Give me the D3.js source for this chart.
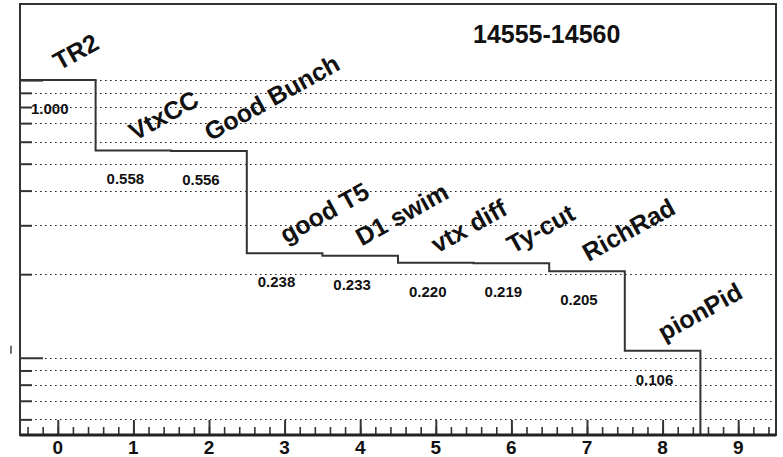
<!DOCTYPE html>
<html>
<head>
<meta charset="utf-8">
<script src="https://cdnjs.cloudflare.com/ajax/libs/d3/7.8.5/d3.min.js"></script>
<style>
body { margin: 0; background: #fff; }
text { font-family: "Liberation Sans", Arial, Helvetica, sans-serif; font-weight: bold; fill: #111; }
</style>
</head>
<body>
<div id="plot"></div>
<script>
// cut flow, fraction of events surviving each cut
var cuts = ["TR2", "VtxCC", "Good Bunch", "good T5", "D1 swim", "vtx diff", "Ty-cut", "RichRad", "pionPid"];
var fractions = [1.000, 0.558, 0.556, 0.238, 0.233, 0.220, 0.219, 0.205, 0.106, 0];
var valueLabels = ["1.000", "0.558", "0.556", "0.238", "0.233", "0.220", "0.219", "0.205", "0.106"];
var xTicks = [0, 1, 2, 3, 4, 5, 6, 7, 8, 9];
var runTitle = "14555-14560";

var width = 783,
    height = 457,
    frame = { left: 20, right: 776, top: 4, bottom: 435 };

var xScale = d3.scaleLinear()
    .domain([-0.5, 9.5])
    .range([frame.left, frame.right]);

var yScale = d3.scaleLog()
    .domain([0.0527, 1.88])
    .range([frame.bottom, frame.top]);

var yMin = yScale.domain()[0];

var svg = d3.select("#plot").append("svg")
    .attr("width", width)
    .attr("height", height);

svg.append("rect")
    .attr("width", width)
    .attr("height", height)
    .attr("fill", "#fff");

// dotted grid on the log axis
svg.append("g")
    .selectAll("line")
    .data(yScale.ticks())
    .enter().append("line")
    .attr("x1", frame.left)
    .attr("x2", frame.right)
    .attr("y1", function(d) { return Math.round(yScale(d)) + 0.5; })
    .attr("y2", function(d) { return Math.round(yScale(d)) + 0.5; })
    .attr("stroke", "#222")
    .attr("stroke-width", 1.2)
    .attr("stroke-dasharray", "1.6,3.4");

// y ticks (inside the frame)
var yMajor = [0.1, 1];
var yMinor = yScale.ticks().filter(function(d) { return yMajor.indexOf(d) < 0; });

svg.append("g")
    .attr("transform", "translate(" + frame.left + ",0)")
    .call(d3.axisLeft(yScale).tickValues(yMinor).tickSize(-12).tickFormat(""))
    .call(function(g) { g.select(".domain").remove(); })
    .selectAll("line").attr("stroke", "#333").attr("stroke-width", 2);

svg.append("g")
    .attr("transform", "translate(" + frame.left + ",0)")
    .call(d3.axisLeft(yScale).tickValues(yMajor).tickSize(-23).tickFormat(""))
    .call(function(g) { g.select(".domain").remove(); })
    .selectAll("line").attr("stroke", "#333").attr("stroke-width", 2);

// x ticks (pointing up)
svg.append("g")
    .attr("transform", "translate(0," + frame.bottom + ")")
    .call(d3.axisBottom(xScale).tickValues(d3.range(-0.4, 9.5, 0.2)).tickSize(-8).tickFormat(""))
    .call(function(g) { g.select(".domain").remove(); })
    .selectAll("line").attr("stroke", "#333").attr("stroke-width", 1.6);

svg.append("g")
    .attr("transform", "translate(0," + frame.bottom + ")")
    .call(d3.axisBottom(xScale).tickValues(xTicks).tickSize(-15).tickFormat(""))
    .call(function(g) { g.select(".domain").remove(); })
    .selectAll("line").attr("stroke", "#333").attr("stroke-width", 2);

// x tick labels
svg.append("g")
    .selectAll("text")
    .data(xTicks)
    .enter().append("text")
    .attr("x", function(d) { return xScale(d); })
    .attr("y", 454)
    .attr("text-anchor", "middle")
    .style("font-size", "19px")
    .text(function(d) { return d; });

// histogram outline
var stepPoints = [];
fractions.forEach(function(v, i) {
    var y = Math.max(v, yMin);
    stepPoints.push([i - 0.5, y]);
    stepPoints.push([i + 0.5, y]);
});

var line = d3.line()
    .x(function(d) { return xScale(d[0]); })
    .y(function(d) { return yScale(d[1]); });

svg.append("path")
    .datum(stepPoints)
    .attr("d", line)
    .attr("fill", "none")
    .attr("stroke", "#333")
    .attr("stroke-width", 2);

// frame
svg.append("rect")
    .attr("x", frame.left)
    .attr("y", frame.top)
    .attr("width", frame.right - frame.left)
    .attr("height", frame.bottom - frame.top)
    .attr("fill", "none")
    .attr("stroke", "#333")
    .attr("stroke-width", 2);

svg.append("line")
    .attr("x1", frame.left)
    .attr("x2", frame.right)
    .attr("y1", frame.bottom)
    .attr("y2", frame.bottom)
    .attr("stroke", "#222")
    .attr("stroke-width", 3);

// little leftover of the y axis label
svg.append("line")
    .attr("x1", 11)
    .attr("x2", 11)
    .attr("y1", yScale(0.1) - 12)
    .attr("y2", yScale(0.1) - 4)
    .attr("stroke", "#333")
    .attr("stroke-width", 1.4);

// cut names above each step
svg.append("g")
    .selectAll("text")
    .data(cuts)
    .enter().append("text")
    .attr("transform", function(d, i) {
        return "translate(" + xScale(i + 0.02) + "," + yScale(fractions[i] * 1.08) + ") rotate(-29)";
    })
    .style("font-size", "25px")
    .text(function(d) { return d; });

// surviving fractions below each step
svg.append("g")
    .selectAll("text")
    .data(valueLabels)
    .enter().append("text")
    .attr("x", function(d, i) { return xScale(i - 0.355); })
    .attr("y", function(d, i) { return yScale(fractions[i] * 0.755); })
    .style("font-size", "15px")
    .text(function(d) { return d; });

// run range
svg.append("text")
    .attr("x", 473)
    .attr("y", 43)
    .style("font-size", "25px")
    .text(runTitle);
</script>
</body>
</html>
